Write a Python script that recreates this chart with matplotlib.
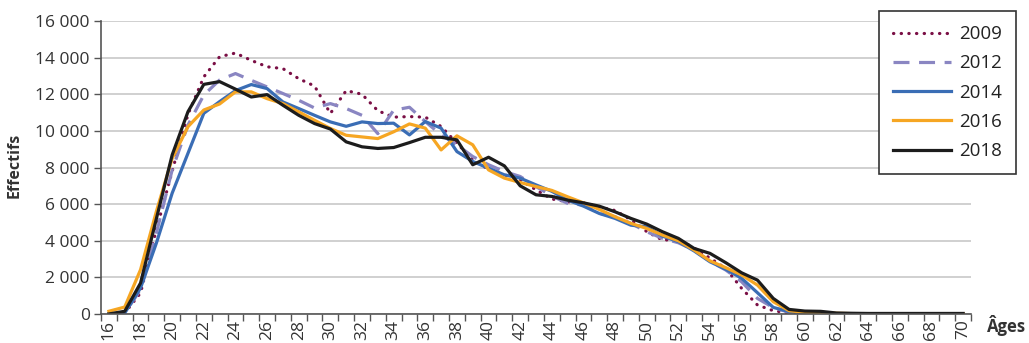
import numpy as np
import matplotlib
matplotlib.use("Agg")
import matplotlib.pyplot as plt
from matplotlib.ticker import FuncFormatter, MultipleLocator

plt.rcParams['font.family'] = ['Open Sans', 'DejaVu Sans']

# âges 16 à 70
ages = list(range(16, 71))

eff_2009 = [0, 50, 1150, 4600, 7800, 10900, 12950, 14050, 14250, 13850,
            13500, 13400, 12850, 12450, 10950, 12200, 12000, 11100, 10750, 10780,
            10750, 10240, 9330, 8420, 7900, 7600, 7330, 6780, 6280, 6130,
            6070, 5850, 5650, 5150, 4500, 4040, 4060, 3600, 3050, 2490,
            1400, 490, 180, 55, 20, 10, 5, 5, 5, 5,
            5, 5, 5, 5, 5]
eff_2012 = [0, 50, 1330, 4420, 7870, 10320, 11960, 12780, 13130, 12760,
            12400, 12040, 11670, 11250, 11490, 11220, 10850, 9850, 11130, 11290,
            10510, 9780, 9240, 8600, 8150, 7780, 7510, 6960, 6450, 6040,
            5950, 5490, 5310, 4950, 4490, 4130, 3890, 3490, 2880, 2400,
            1760, 850, 350, 90, 30, 15, 5, 5, 5, 5,
            5, 5, 5, 5, 5]
eff_2014 = [20, 50, 1420, 3870, 6600, 8780, 10960, 11600, 12200, 12530,
            12310, 11580, 11220, 10850, 10490, 10250, 10490, 10400, 10420, 9780,
            10510, 10150, 8870, 8330, 7960, 7600, 7420, 7050, 6700, 6220,
            5890, 5490, 5220, 4850, 4760, 4250, 3950, 3440, 2850, 2440,
            1950, 1160, 360, 130, 60, 40, 20, 10, 10, 10,
            10, 10, 10, 10, 10]
eff_2016 = [150, 380, 2420, 5600, 8500, 10230, 11140, 11470, 12130, 12130,
            11760, 11490, 11040, 10580, 10130, 9760, 9670, 9580, 9950, 10380,
            10150, 8960, 9730, 9240, 7870, 7420, 7180, 6960, 6750, 6400,
            6070, 5710, 5310, 4950, 4670, 4310, 4000, 3490, 2900, 2530,
            2130, 1580, 670, 180, 90, 60, 40, 20, 20, 20,
            20, 20, 20, 20, 20]
eff_2018 = [0, 150, 1690, 5200, 8690, 11050, 12540, 12690, 12280, 11850,
            11980, 11400, 10850, 10400, 10100, 9400, 9130, 9040, 9090, 9360,
            9650, 9650, 9510, 8150, 8560, 8090, 7000, 6510, 6420, 6220,
            6070, 5890, 5580, 5220, 4910, 4490, 4130, 3580, 3310, 2800,
            2250, 1850, 850, 250, 160, 145, 55, 40, 30, 30,
            30, 30, 30, 30, 30]

annees = ["2009", "2012", "2014", "2016", "2018"]
series = [eff_2009, eff_2012, eff_2014, eff_2016, eff_2018]
couleurs = ["#7a0f45", "#8a86c2", "#3a6db5", "#f6a623", "#1c1c1c"]
styles = [(0, (0.1, 2.3)), (0, (5, 3)), "-", "-", "-"]

fig = plt.figure(figsize=(10.29, 3.43), dpi=100)
ax = fig.add_axes([101 / 1029, 1 - 314 / 343, 870 / 1029, 293 / 343])

for annee, val, c, ls in zip(annees, series, couleurs, styles):
    cap = "round" if annee == "2009" else "butt"
    ax.plot(ages, val, color=c, linestyle=ls, linewidth=2.3,
            dash_capstyle=cap, label=annee)

# axes
ax.set_xlim(15.5, 70.5)
ax.set_ylim(0, 16000)
ax.yaxis.set_major_locator(MultipleLocator(2000))
ax.yaxis.set_major_formatter(FuncFormatter(lambda v, p: f"{int(v):,}".replace(",", " ")))
ax.set_xticks(ages[::2])
ax.set_xticklabels([str(a) for a in ages[::2]], rotation=90)
ax.set_xticks(np.arange(15.5, 71, 1), minor=True)
ax.tick_params(axis="x", which="major", length=0, pad=4, labelsize=12.5, colors="#333333")
ax.tick_params(axis="x", which="minor", length=5, width=1, color="#555555")
ax.tick_params(axis="y", length=5, width=1, color="#555555", labelsize=12.5,
               labelcolor="#333333", pad=3)

ax.grid(axis="y", color="#c8c8c8", linewidth=1.2)
ax.set_axisbelow(True)
ax.spines[["top", "right"]].set_visible(False)
ax.spines[["left", "bottom"]].set_color("#555555")
ax.spines[["left", "bottom"]].set_linewidth(1.2)

fig.text(15 / 1029, 1 - 165 / 343, "Effectifs", rotation=90, fontsize=11.5,
         fontweight="bold", color="#333333", ha="center", va="center")
fig.text(987 / 1029, 1 - 326 / 343, "Âges", fontsize=12, fontweight="bold",
         color="#333333", ha="left", va="center")

leg = fig.legend(loc="upper left", bbox_to_anchor=(879 / 1029, 1 - 11 / 343),
                 fontsize=13.5, frameon=True, fancybox=False, handlelength=3.1,
                 handletextpad=0.4, labelspacing=0.6, borderpad=0.75,
                 borderaxespad=0)
leg.get_frame().set_edgecolor("#333333")
leg.get_frame().set_linewidth(1.2)
leg.get_frame().set_alpha(1)
for t in leg.get_texts():
    t.set_color("#222222")

fig.savefig("out.png", dpi=100)
